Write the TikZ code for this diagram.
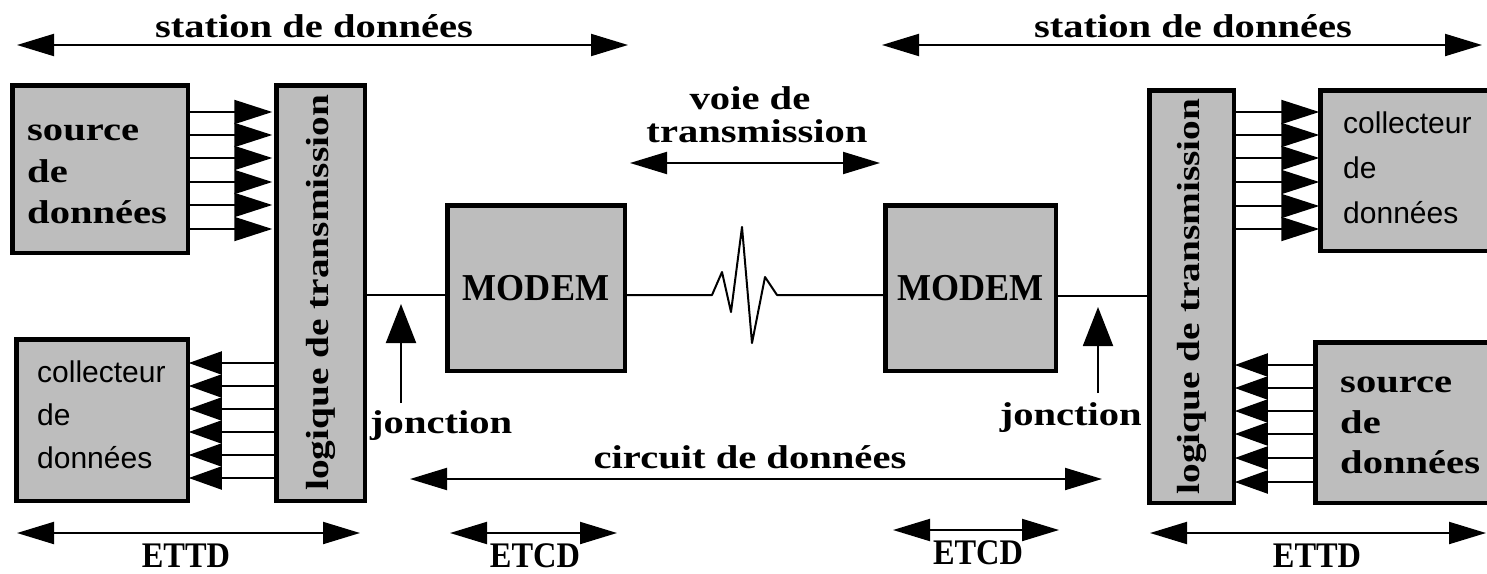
\documentclass[tikz,border=0pt]{standalone}
\usepackage{fontspec}
\usetikzlibrary{arrows.meta}
\newfontfamily\bsfont[FakeStretch=1.23]{Liberation Serif}
\newfontfamily\etfont[FakeStretch=0.9]{Liberation Serif}
\newfontfamily\mdfont[FakeStretch=0.95]{Liberation Serif}
\newfontfamily\ssfont{Liberation Sans}
\definecolor{boxgray}{RGB}{189,189,189}
\begin{document}
\begin{tikzpicture}[x=1pt,y=-1pt,
  box/.style={draw=black, line width=4.5pt, fill=boxgray, inner sep=0pt, outer sep=0pt},
  conn/.style={line width=2pt},
  dimarr/.style={line width=2pt, {Triangle[length=37pt,width=22pt]}-{Triangle[length=37pt,width=22pt]}},
  bigR/.style={line width=2pt, -{Triangle[length=38pt,width=24pt]}},
  bigL/.style={line width=2pt, -{Triangle[length=33pt,width=23pt]}},
  juncarr/.style={line width=2pt, -{Triangle[length=39pt,width=30pt]}},
  btxt/.style={font=\bsfont\bfseries\fontsize{33}{38}\selectfont, inner sep=0pt},
  etxt/.style={font=\etfont\bfseries\fontsize{36}{40}\selectfont, inner sep=0pt},
  mtxt/.style={font=\mdfont\bfseries\fontsize{38}{40}\selectfont, inner sep=0pt},
  stxt/.style={font=\ssfont\fontsize{30}{34}\selectfont, inner sep=0pt},
  rtxt/.style={font=\bsfont\bfseries\fontsize{32}{38}\selectfont, inner sep=0pt, rotate=90}
]
\useasboundingbox (0,0) rectangle (1487,573);
\clip (0,0) rectangle (1487,573);

% ---------- boxes ----------
\node[box, minimum width=175.5pt, minimum height=167.5pt] (srcL) at (100,169) {};
\node[box, minimum width=171.5pt, minimum height=161.5pt] (colL) at (102,420) {};
\node[box, minimum width=88.5pt, minimum height=415.5pt] (logL) at (320.5,293) {};
\node[box, minimum width=177.5pt, minimum height=165.5pt] (modL) at (536,288) {};
\node[box, minimum width=170.5pt, minimum height=165.5pt] (modR) at (970.5,288) {};
\node[box, minimum width=84.5pt, minimum height=412.5pt] (logR) at (1191.5,296.5) {};
\node[box, minimum width=187.5pt, minimum height=160.5pt] (colR) at (1414,170.5) {};
\node[box, minimum width=192.5pt, minimum height=160.5pt] (srcR) at (1411.5,422.5) {};

% ---------- box texts ----------
\node[btxt, anchor=base west] (srcLa) at (27,140) {source};
\node[btxt, anchor=base west] (srcLb) at (27,182) {de};
\node[btxt, anchor=base west] (srcLc) at (27,223) {données};
\node[stxt, anchor=base west] (colLa) at (37,382) {collecteur};
\node[stxt, anchor=base west] (colLb) at (37,425) {de};
\node[stxt, anchor=base west] (colLc) at (37,468) {données};
\node[stxt, anchor=base west] (colRa) at (1343,133) {collecteur};
\node[stxt, anchor=base west] (colRb) at (1343,178) {de};
\node[stxt, anchor=base west] (colRc) at (1343,223) {données};
\node[btxt, anchor=base west] (srcRa) at (1340,392) {source};
\node[btxt, anchor=base west] (srcRb) at (1340,433) {de};
\node[btxt, anchor=base west] (srcRc) at (1340,473) {données};
\node[rtxt] (logLt) at (logL) {logique de transmission};
\node[rtxt] (logRt) at (logR) {logique de transmission};
\node[mtxt] (modLt) at (modL) {MODEM};
\node[mtxt] (modRt) at (modR) {MODEM};

% ---------- bundles ----------
\foreach \y in {112,135,158,182,205,229}
  \draw[bigR, shorten >=4pt] (srcL.east |- 0,\y) -- (logL.west |- 0,\y);
\foreach \y in {363,386,409,432,455,478}
  \draw[bigL, shorten >=1pt] (logL.west |- 0,\y) -- (colL.east |- 0,\y);
\foreach \y in {112,135,158,182,206,229}
  \draw[bigR, shorten >=1pt] (logR.east |- 0,\y) -- (colR.west |- 0,\y);
\foreach \y in {365,388,411,434,458,482}
  \draw[bigL, shorten >=1pt] (srcR.west |- 0,\y) -- (logR.east |- 0,\y);

% ---------- links and wave ----------
\draw[conn] (logL.east |- 0,295) -- (modL.west |- 0,295);
\draw[conn] (modR.east |- 0,296) -- (logR.west |- 0,296);
\coordinate (w1) at (712,295);
\coordinate (w2) at (722,272);
\coordinate (w3) at (731,312);
\coordinate (w4) at (742,227);
\coordinate (w5) at (752,343);
\coordinate (w6) at (765,277);
\coordinate (w7) at (777,295);
\draw[conn, line join=round] (modL.east |- 0,295) -- (w1) -- (w2) -- (w3) -- (w4) -- (w5) -- (w6) -- (w7) -- (modR.west |- 0,295);

% ---------- jonction ----------
\coordinate (jLa) at (401,403);
\coordinate (jLb) at (401,304);
\draw[juncarr] (jLa) -- (jLb);
\node[btxt, anchor=base west] (jLt) at (370,433) {jonction};
\coordinate (jRa) at (1098,393);
\coordinate (jRb) at (1098,307);
\draw[juncarr] (jRa) -- (jRb);
\node[btxt, anchor=base east] (jRt) at (1142,425) {jonction};

% ---------- dimension arrows ----------
\coordinate (stLa) at (17,45);   \coordinate (stLb) at (628,45);
\draw[dimarr] (stLa) -- (stLb);
\node[btxt, anchor=base] (stLt) at (314,37) {station de données};
\coordinate (stRa) at (882,45);  \coordinate (stRb) at (1482,45);
\draw[dimarr] (stRa) -- (stRb);
\node[btxt, anchor=base] (stRt) at (1193,37) {station de données};

\coordinate (voa) at (630,163);  \coordinate (vob) at (880,163);
\draw[dimarr] (voa) -- (vob);
\node[btxt, anchor=base] (vot1) at (750,109) {voie de};
\node[btxt, anchor=base] (vot2) at (757,142) {transmission};

\coordinate (cia) at (410,479);  \coordinate (cib) at (1102,479);
\draw[dimarr] (cia) -- (cib);
\node[btxt, anchor=base] (cit) at (750,468) {circuit de données};

\coordinate (etLa) at (17,533);  \coordinate (etLb) at (360,533);
\draw[dimarr] (etLa) -- (etLb);
\node[etxt, anchor=base] (etLt) at (186,567) {ETTD};

\coordinate (ecLa) at (450,533); \coordinate (ecLb) at (617,533);
\draw[dimarr] (ecLa) -- (ecLb);
\node[etxt, anchor=base] (ecLt) at (535,567) {ETCD};

\coordinate (ecRa) at (893,530); \coordinate (ecRb) at (1059,530);
\draw[dimarr] (ecRa) -- (ecRb);
\node[etxt, anchor=base] (ecRt) at (978,564) {ETCD};

\coordinate (etRa) at (1150,533); \coordinate (etRb) at (1486,533);
\draw[dimarr] (etRa) -- (etRb);
\node[etxt, anchor=base] (etRt) at (1317,567) {ETTD};
\end{tikzpicture}
\end{document}
